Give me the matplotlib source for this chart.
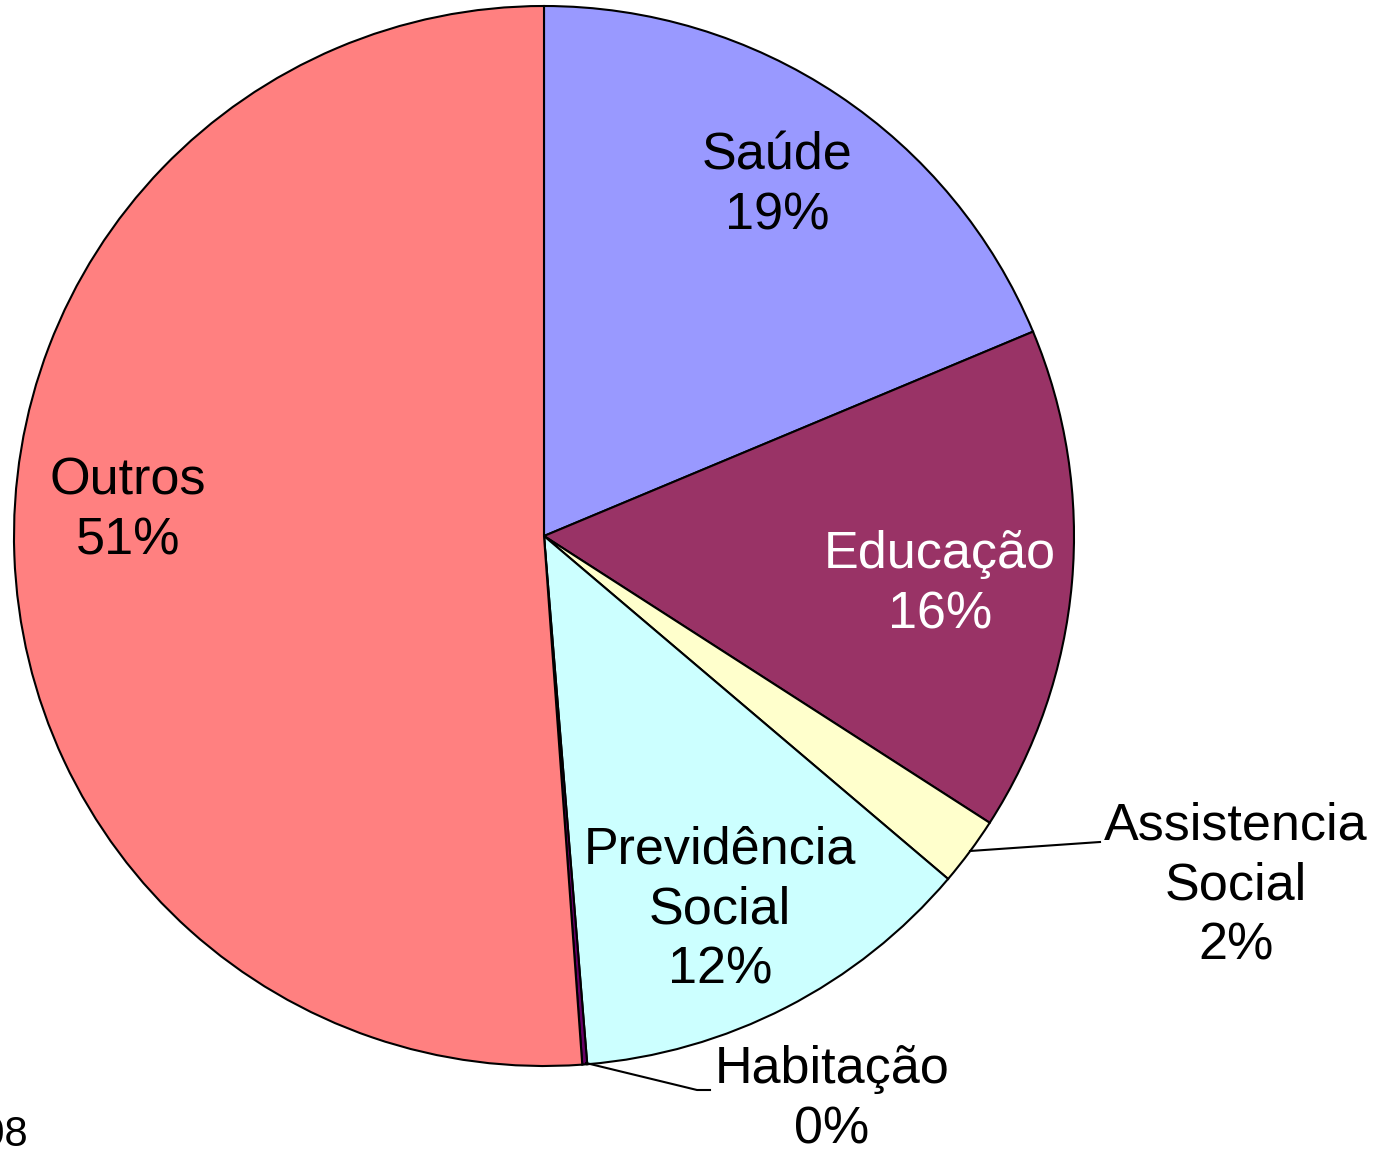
import matplotlib.pyplot as plt

plt.rcParams['font.family'] = ['Liberation Sans', 'DejaVu Sans']

labels = ['Saúde', 'Educação', 'Assistencia\nSocial', 'Previdência\nSocial',
          'Habitação', 'Outros']
values = [18.7, 15.4, 2.1, 12.5, 0.15, 51.15]
colors = ['#9999FF', '#993366', '#FFFFCC', '#CCFFFF', '#660066', '#FF8080']
pcts = ['19%', '16%', '2%', '12%', '0%', '51%']

W, H = 1389, 1154
fig = plt.figure(figsize=(W / 100, H / 100), dpi=100)
ax = fig.add_axes([0, 0, 1, 1])

cx, cy, r = 544, -536, 530
ax.pie(values, colors=colors, startangle=90, counterclock=False,
       center=(cx, cy), radius=r, frame=True,
       wedgeprops=dict(edgecolor='black', linewidth=1.5))
ax.set_xlim(0, W)
ax.set_ylim(-H, 0)
ax.set_aspect('equal')
ax.axis('off')

# label positions (pixel coords of text centres)
pos = [(777, 186), (940, 585), (1236, 886), (720, 910), (832, 1100), (128, 511)]
tcol = ['black', 'white', 'black', 'black', 'black', 'black']
for lab, p, (x, y), c in zip(labels, pcts, pos, tcol):
    ax.text(x, -y, lab + '\n' + p, ha='center', va='center', fontsize=37.5,
            color=c, linespacing=1.3)

# leader lines
ax.plot([970, 1100], [-851, -842], color='black', lw=1.5)
ax.plot([586, 697, 710], [-1063, -1090, -1090], color='black', lw=1.5)

ax.text(28, -1135, '2008', ha='right', va='center', fontsize=30)

fig.savefig('out.png', dpi=100)
